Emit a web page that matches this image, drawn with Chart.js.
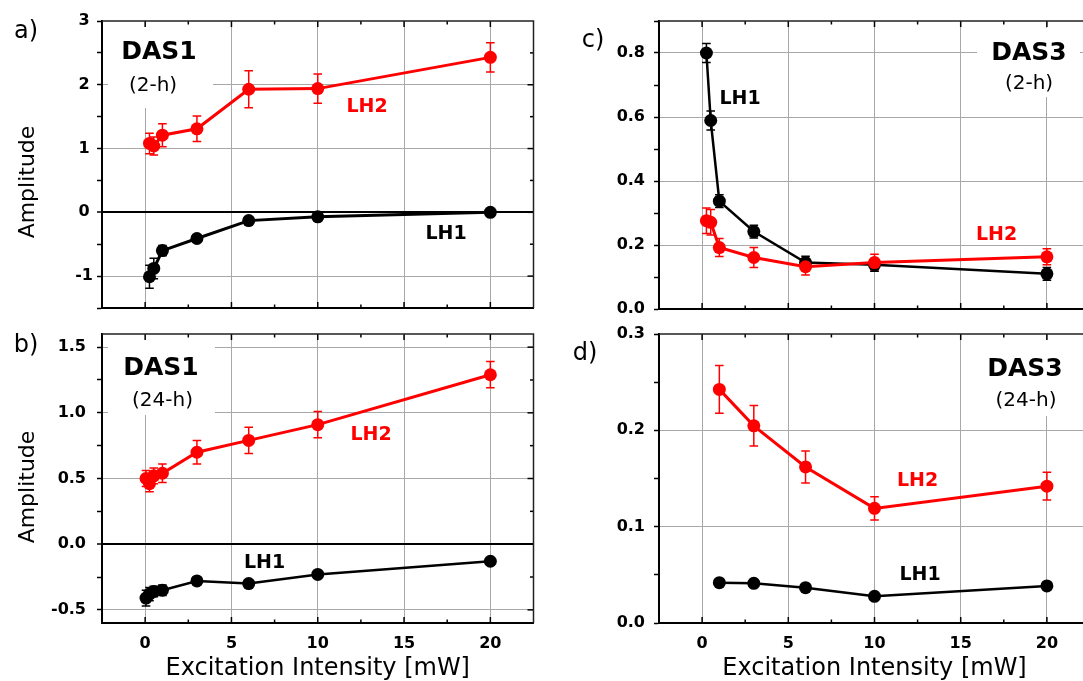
<!DOCTYPE html>
<html>
<head>
<meta charset="utf-8">
<script src="https://cdn.jsdelivr.net/npm/chart.js@4"></script>
<style>
  html, body { margin: 0; padding: 0; background: #fff; overflow: hidden; }
  canvas { position: absolute; }
</style>
</head>
<body>
<canvas id="chartA" width="540" height="320" style="left:0px;top:0px"></canvas>
<canvas id="chartB" width="540" height="361" style="left:0px;top:320px"></canvas>
<canvas id="chartC" width="560" height="320" style="left:540px;top:0px"></canvas>
<canvas id="chartD" width="560" height="361" style="left:540px;top:320px"></canvas>
<script>
// Daten aus der Abbildung abgelesen
// a) DAS1 (2-h)
const xA = [0.25, 0.5, 1, 3, 6, 10, 20];
const lh2A = [1.08, 1.04, 1.21, 1.31, 1.93, 1.94, 2.43];
const lh2ErrA = [0.16, 0.14, 0.18, 0.20, 0.29, 0.23, 0.23];
const lh1A = [-1.01, -0.88, -0.60, -0.41, -0.13, -0.07, 0.0];
const lh1ErrA = [0.18, 0.16, 0.08, 0.03, 0.03, 0.03, 0.03];

// b) DAS1 (24-h)
const xB = [0.05, 0.25, 0.5, 1, 3, 6, 10, 20];
const lh2B = [0.50, 0.46, 0.52, 0.54, 0.70, 0.79, 0.91, 1.29];
const lh2ErrB = [0.06, 0.06, 0.06, 0.07, 0.09, 0.10, 0.10, 0.10];
const lh1B = [-0.41, -0.38, -0.36, -0.35, -0.28, -0.30, -0.23, -0.13];
const lh1ErrB = [0.06, 0.05, 0.04, 0.04, 0.02, 0.02, 0.02, 0.02];

// c) DAS3 (2-h)
const xC = [0.25, 0.5, 1, 3, 6, 10, 20];
const lh1C = [0.80, 0.589, 0.337, 0.242, 0.145, 0.138, 0.11];
const lh1ErrC = [0.03, 0.03, 0.02, 0.02, 0.02, 0.02, 0.02];
const lh2C = [0.276, 0.271, 0.192, 0.161, 0.132, 0.145, 0.163];
const lh2ErrC = [0.04, 0.04, 0.028, 0.031, 0.026, 0.026, 0.025];

// d) DAS3 (24-h)
const xD = [1, 3, 6, 10, 20];
const lh2D = [0.2425, 0.2047, 0.162, 0.119, 0.142];
const lh2ErrD = [0.0248, 0.021, 0.0166, 0.012, 0.0144];
const lh1D = [0.0419, 0.0412, 0.0367, 0.0277, 0.0385];
const lh1ErrD = [0.002, 0.002, 0.002, 0.002, 0.002];

// Achsen
const xMin = -2.5, xMax = 22.5, xStep = 2.5, xMajor = 5;
const xTitle = 'Excitation Intensity [mW]';
const yTitle = 'Amplitude';

const FONT = "'DejaVu Sans', sans-serif";
const GRID = '#a8a8a8';
const RED = '#ff0000';
const BLACK = '#000000';

function isMajor(v, major) {
  const r = v / major;
  return Math.abs(r - Math.round(r)) < 1e-6;
}

// Ticks als Vielfache der Schrittweite
function stepTicks(min, max, step) {
  const t = [];
  const start = Math.ceil(min / step - 1e-9);
  const end = Math.floor(max / step + 1e-9);
  for (let k = start; k <= end; k++) t.push({ value: +(k * step).toFixed(6) });
  return t;
}

// Fehlerbalken, weisse Kaesten und Ticks nach innen
const extrasPlugin = {
  id: 'extras',
  beforeDatasetsDraw(chart) {
    const ctx = chart.ctx;
    const cfg = chart.config.options.panel;
    const area = chart.chartArea;
    const xs = chart.scales.x, ys = chart.scales.y;
    ctx.save();
    // weisser Hintergrund hinter dem Titel
    if (cfg.box) {
      ctx.fillStyle = '#fff';
      ctx.fillRect(cfg.box[0], cfg.box[1], cfg.box[2] - cfg.box[0], cfg.box[3] - cfg.box[1]);
    }
    // Ticks nach innen (unten, oben, rechts)
    ctx.strokeStyle = '#000';
    ctx.lineWidth = 1.5;
    xs.ticks.forEach(t => {
      if (t.value <= xMin || t.value >= xMax) return;
      const px = xs.getPixelForValue(t.value);
      const len = isMajor(t.value, xMajor) ? 6 : 3.5;
      ctx.beginPath();
      ctx.moveTo(px, area.bottom); ctx.lineTo(px, area.bottom - len);
      ctx.moveTo(px, area.top); ctx.lineTo(px, area.top + len);
      ctx.stroke();
    });
    ys.ticks.forEach(t => {
      if (t.value <= cfg.yMin || t.value >= cfg.yMax) return;
      const py = ys.getPixelForValue(t.value);
      const len = isMajor(t.value, cfg.yMajor) ? 6 : 3.5;
      ctx.beginPath();
      ctx.moveTo(area.right, py); ctx.lineTo(area.right - len, py);
      ctx.stroke();
    });
    // Fehlerbalken
    chart.data.datasets.forEach(ds => {
      ctx.strokeStyle = ds.borderColor;
      ctx.lineWidth = 1.5;
      ds.data.forEach((p, i) => {
        const e = ds.errs[i];
        const px = xs.getPixelForValue(p.x);
        const y1 = ys.getPixelForValue(p.y - e);
        const y2 = ys.getPixelForValue(p.y + e);
        ctx.beginPath();
        ctx.moveTo(px, y1); ctx.lineTo(px, y2);
        ctx.moveTo(px - 4.3, y1); ctx.lineTo(px + 4.3, y1);
        ctx.moveTo(px - 4.3, y2); ctx.lineTo(px + 4.3, y2);
        ctx.stroke();
      });
    });
    ctx.restore();
  },
  afterDraw(chart) {
    const ctx = chart.ctx;
    const cfg = chart.config.options.panel;
    const area = chart.chartArea;
    ctx.save();
    // Rahmen oben und rechts
    ctx.strokeStyle = '#222';
    ctx.lineWidth = 1.5;
    ctx.beginPath();
    ctx.moveTo(area.left, area.top); ctx.lineTo(area.right, area.top); ctx.lineTo(area.right, area.bottom);
    ctx.stroke();
    // Beschriftungen
    ctx.textAlign = 'center';
    ctx.textBaseline = 'alphabetic';
    cfg.notes.forEach(n => {
      ctx.fillStyle = n.color || '#000';
      ctx.font = (n.bold ? 'bold ' : '') + n.size + 'px ' + FONT;
      ctx.fillText(n.text, n.x, n.y);
    });
    if (cfg.yTitlePos) {
      ctx.fillStyle = '#000';
      ctx.font = '22px ' + FONT;
      ctx.translate(cfg.yTitlePos[0], cfg.yTitlePos[1]);
      ctx.rotate(-Math.PI / 2);
      ctx.textBaseline = 'middle';
      ctx.fillText(yTitle, 0, 0);
    }
    ctx.restore();
  }
};

function makePanel(id, p) {
  const canvas = document.getElementById(id);
  const W = canvas.width, H = canvas.height;
  const datasets = p.series.map(s => ({
    data: p.x.map((x, i) => ({ x: x, y: s.y[i] })),
    errs: s.err,
    borderColor: s.color,
    backgroundColor: s.color,
    pointBackgroundColor: s.color,
    borderWidth: s.lw,
    pointRadius: 6.5,
    pointBorderWidth: 0,
    pointHoverRadius: 6.5,
    tension: 0,
    showLine: true
  }));
  return new Chart(canvas.getContext('2d'), {
    type: 'line',
    data: { datasets: datasets },
    plugins: [extrasPlugin],
    options: {
      responsive: false,
      animation: false,
      events: [],
      panel: p,
      layout: { padding: { left: 0, top: p.plot.top, right: W - p.plot.right, bottom: 0 } },
      plugins: { legend: { display: false }, tooltip: { enabled: false } },
      scales: {
        x: {
          type: 'linear',
          min: xMin, max: xMax,
          afterFit: s => {
            s.height = H - p.plot.bottom;
            s.paddingLeft = 0;
            s.paddingRight = 0;
          },
          afterBuildTicks: s => { s.ticks = stepTicks(xMin, xMax, xStep); },
          ticks: {
            display: p.showX,
            autoSkip: false,
            maxRotation: 0,
            padding: 11,
            color: '#000',
            font: { family: FONT, size: 16, weight: 'bold' },
            callback: v => isMajor(v, xMajor) ? String(v) : ''
          },
          grid: {
            drawTicks: false,
            color: c => (c.tick && isMajor(c.tick.value, xMajor) && c.tick.value > xMin && c.tick.value < xMax) ? GRID : 'rgba(0,0,0,0)',
            lineWidth: 1
          },
          border: { display: true, color: '#000', width: 2 },
          title: {
            display: p.showX,
            text: xTitle,
            color: '#000',
            padding: 0,
            font: { family: FONT, size: 24, lineHeight: 1 }
          }
        },
        y: {
          type: 'linear',
          min: p.yMin, max: p.yMax,
          afterFit: s => {
            s.width = p.plot.left;
            s.paddingTop = 0;
            s.paddingBottom = 0;
          },
          afterBuildTicks: s => { s.ticks = stepTicks(p.yMin, p.yMax, p.yStep); },
          ticks: {
            autoSkip: false,
            padding: p.yPad,
            crossAlign: p.yAlign,
            color: '#000',
            font: { family: FONT, size: 16, weight: 'bold' },
            callback: v => isMajor(v, p.yMajor) ? p.yFmt(v) : ''
          },
          grid: {
            drawTicks: true,
            tickLength: 5,
            tickWidth: 1.5,
            tickColor: '#000',
            color: c => {
              if (!c.tick) return 'rgba(0,0,0,0)';
              const v = c.tick.value;
              if (p.zeroLine && Math.abs(v) < 1e-9) return '#000';
              return (isMajor(v, p.yMajor) && v > p.yMin && v < p.yMax) ? GRID : 'rgba(0,0,0,0)';
            },
            lineWidth: c => (p.zeroLine && c.tick && Math.abs(c.tick.value) < 1e-9) ? 2 : 1
          },
          border: { display: true, color: '#000', width: 2 }
        }
      }
    }
  });
}

// a)
makePanel('chartA', {
  x: xA,
  series: [
    { y: lh2A, err: lh2ErrA, color: RED, lw: 3 },
    { y: lh1A, err: lh1ErrA, color: BLACK, lw: 3 }
  ],
  plot: { left: 102, top: 21, right: 534, bottom: 308 },
  yMin: -1.5, yMax: 3, yStep: 0.5, yMajor: 1, yFmt: v => String(v),
  yAlign: 'center', yPad: 4, zeroLine: true, showX: false,
  box: [108, 27, 213, 108],
  yTitlePos: [28, 182],
  notes: [
    { text: 'a)', x: 26, y: 37.5, size: 24 },
    { text: 'DAS1', x: 159, y: 59, size: 25, bold: true },
    { text: '(2-h)', x: 153, y: 90.5, size: 20 },
    { text: 'LH2', x: 367, y: 112, size: 19, bold: true, color: RED },
    { text: 'LH1', x: 446, y: 239, size: 19, bold: true }
  ]
});

// b)
makePanel('chartB', {
  x: xB,
  series: [
    { y: lh2B, err: lh2ErrB, color: RED, lw: 3 },
    { y: lh1B, err: lh1ErrB, color: BLACK, lw: 2.5 }
  ],
  plot: { left: 102, top: 14, right: 534, bottom: 303 },
  yMin: -0.6, yMax: 1.6, yStep: 0.25, yMajor: 0.5, yFmt: v => v.toFixed(1),
  yAlign: 'near', yPad: 11, zeroLine: true, showX: true,
  box: [108, 18, 215, 95],
  yTitlePos: [28, 167],
  notes: [
    { text: 'b)', x: 26, y: 32, size: 24 },
    { text: 'DAS1', x: 161, y: 55, size: 25, bold: true },
    { text: '(24-h)', x: 162.5, y: 85.5, size: 20 },
    { text: 'LH2', x: 371, y: 120, size: 19, bold: true, color: RED },
    { text: 'LH1', x: 264.5, y: 247.5, size: 19, bold: true }
  ]
});

// c)
makePanel('chartC', {
  x: xC,
  series: [
    { y: lh2C, err: lh2ErrC, color: RED, lw: 3 },
    { y: lh1C, err: lh1ErrC, color: BLACK, lw: 2.5 }
  ],
  plot: { left: 119, top: 21, right: 550, bottom: 309 },
  yMin: 0, yMax: 0.9, yStep: 0.1, yMajor: 0.2, yFmt: v => v.toFixed(1),
  yAlign: 'near', yPad: 9, zeroLine: false, showX: false,
  box: [437, 28, 540, 97],
  notes: [
    { text: 'c)', x: 53, y: 47, size: 24 },
    { text: 'DAS3', x: 489, y: 60, size: 25, bold: true },
    { text: '(2-h)', x: 489, y: 89, size: 20 },
    { text: 'LH1', x: 200, y: 104, size: 19, bold: true },
    { text: 'LH2', x: 456.5, y: 240, size: 19, bold: true, color: RED }
  ]
});

// d)
makePanel('chartD', {
  x: xD,
  series: [
    { y: lh2D, err: lh2ErrD, color: RED, lw: 3 },
    { y: lh1D, err: lh1ErrD, color: BLACK, lw: 2.5 }
  ],
  plot: { left: 119, top: 14, right: 550, bottom: 303 },
  yMin: 0, yMax: 0.3, yStep: 0.05, yMajor: 0.1, yFmt: v => v.toFixed(1),
  yAlign: 'near', yPad: 9, zeroLine: false, showX: true,
  box: [437, 20, 540, 96],
  notes: [
    { text: 'd)', x: 45, y: 40, size: 24 },
    { text: 'DAS3', x: 485, y: 55.7, size: 25, bold: true },
    { text: '(24-h)', x: 486, y: 85.5, size: 20 },
    { text: 'LH2', x: 377.5, y: 166, size: 19, bold: true, color: RED },
    { text: 'LH1', x: 380, y: 260, size: 19, bold: true }
  ]
});
</script>
</body>
</html>
